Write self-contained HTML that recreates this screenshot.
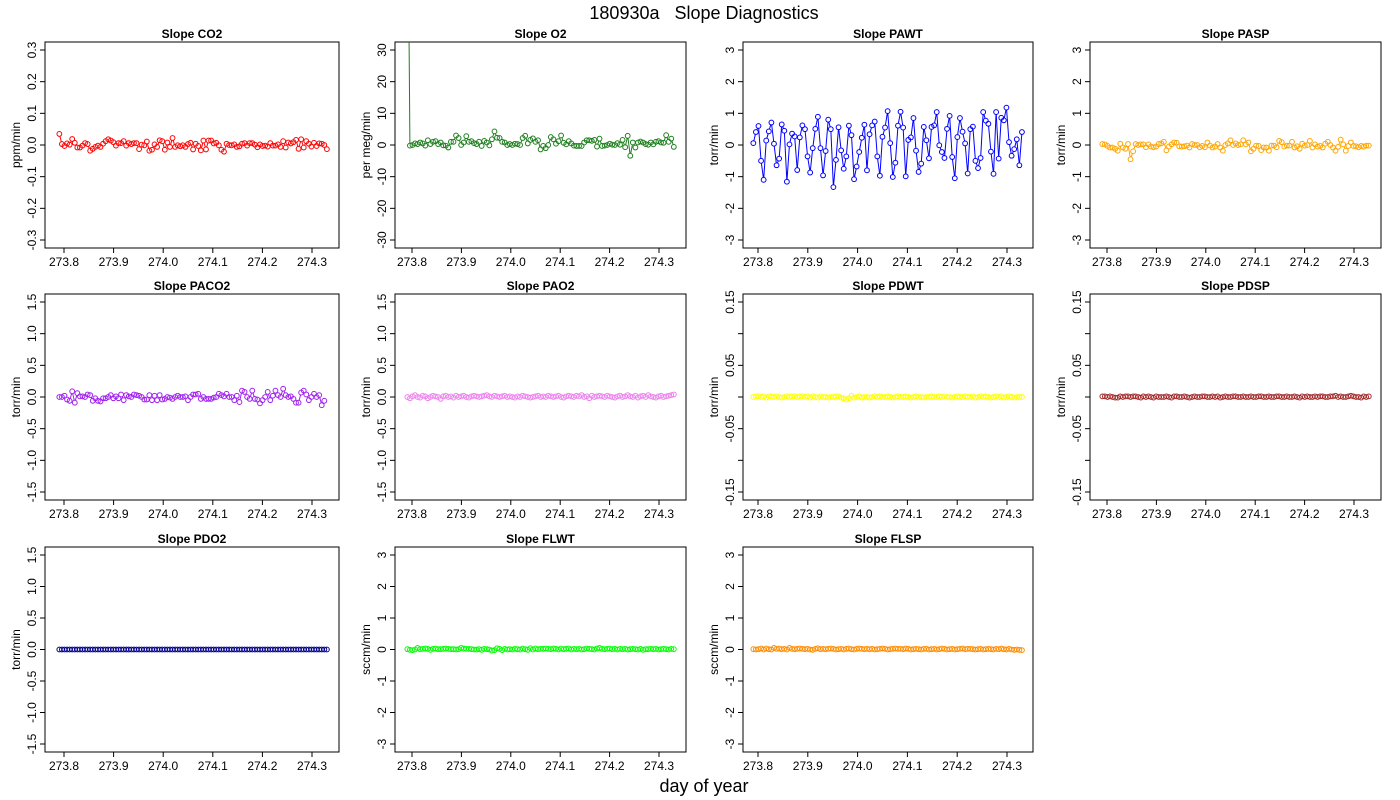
<!DOCTYPE html>
<html><head><meta charset="utf-8">
<style>
html,body{margin:0;padding:0;background:#fff;}
svg{display:block;font-family:"Liberation Sans",sans-serif;}
</style></head>
<body>
<svg id="chart" width="1400" height="800" viewBox="0 0 1400 800">
<text x="704" y="19" font-size="18" text-anchor="middle" xml:space="preserve">180930a   Slope Diagnostics</text>
<text x="704" y="792" font-size="18" text-anchor="middle">day of year</text>
</svg>
<script>
const t0 = 273.7906;
const t1 = 274.330;
const xTicks = [273.8, 273.9, 274.0, 274.1, 274.2, 274.3];
const xTickLabels = ["273.8","273.9","274.0","274.1","274.2","274.3"];

const co2 = [0.035,0.003,-0.003,0.005,0.001,0.019,0.007,-0.008,-0.008,-0.002,0.006,0.003,-0.018,-0.012,-0.006,-0.002,-0.006,0.004,0.012,0.018,0.014,0.009,-0.002,0.006,0.006,0.012,-0.002,0.006,0.003,0.006,0.006,-0.013,0.001,-0.001,0.011,-0.018,-0.015,0.002,-0.006,0.015,0.012,-0.015,0.008,-0.006,0.022,-0.006,-0.001,-0.004,-0.001,-0.006,0.003,0.007,-0.014,0.004,-0.003,-0.017,0.014,-0.014,0.014,0.014,0.005,0.007,-0.001,-0.015,-0.021,0.004,0,-0.001,0.002,-0.006,-0.004,0.004,0.006,-0.002,0.006,0.006,0.001,-0.007,0.002,-0.003,-0.002,-0.005,0.006,-0.002,-0.002,0.002,-0.006,0.012,-0.008,0.008,0.005,0.009,0.016,-0.012,0.018,-0.008,0.012,0.004,-0.005,0.007,-0.003,0.005,0.004,0,-0.013];
const o2 = [100,-0.2,0,0.5,0.3,0.8,0.5,-0.2,1.5,0.3,1,1.2,0.3,0.8,-0.1,-0.2,-0.8,1,1,3,2.2,0,0.8,2.8,1,1.2,0.6,0.3,1,-0.3,1.3,0.8,-0.1,1.8,4.3,2.3,2.2,1,0.8,0,0.3,0,0.4,0.3,0,2.2,2.9,0.5,1.6,2.1,1,1.5,-1.4,-0.3,-1,0,2.5,1.8,0.4,1.2,3,0.7,0.2,1.2,0.5,-0.2,-0.3,-0.3,-0.3,0.8,1.5,1.5,1.3,1.6,-0.5,2,-0.3,-0.2,0,0.4,0.1,0,0.6,0.1,1.6,-0.7,2.9,-3.4,0.8,-0.8,0.8,1.1,0.8,0.3,0.1,0.8,0.2,1,1.2,0.8,0.7,3.1,1,2,-0.6];
const pawt = [0.06,0.41,0.6,-0.5,-1.1,0.14,0.43,0.71,0.04,-0.64,-0.43,0.65,0.45,-1.16,0.02,0.36,0.27,-0.79,0.24,0.62,0.5,-0.36,-0.87,-0.1,0.51,0.89,-0.1,-0.96,-0.19,0.8,0.5,-1.33,-0.47,0.56,-0.17,-0.75,-0.36,0.61,0.31,-1.08,-0.68,-0.22,0.23,0.64,-0.8,0.34,0.62,0.74,-0.36,-0.97,0.26,0.55,1.07,0.06,-1.01,-0.56,0.61,1.05,0.55,-0.99,0.16,0.24,0.85,-0.18,-0.85,-0.59,0.57,0.15,-0.42,0.57,0.62,1.04,-0.01,-0.22,-0.41,0.51,0.92,-0.38,-1.05,0.25,0.85,0.42,0.05,-0.9,0.5,0.58,-0.5,-0.73,-0.41,1.04,0.77,0.67,-0.21,-0.91,1.04,-0.43,0.86,0.78,1.18,0.09,-0.34,-0.13,0.18,-0.64,0.41];
const pasp = [0.03,0.02,-0.03,-0.08,-0.08,-0.12,-0.18,0.04,-0.08,-0.12,0.03,-0.45,-0.2,0.03,0,0.02,0.02,-0.07,0.02,-0.05,-0.07,-0.05,0.03,0.05,0.1,-0.17,-0.05,0.02,0.08,0.07,-0.04,-0.05,-0.04,-0.02,-0.08,0.03,0,0,-0.07,-0.03,-0.07,0.08,-0.02,-0.08,-0.05,0.03,-0.08,-0.18,0,0.05,0.15,0,0.05,0,0.02,0.15,0.02,0.08,-0.2,-0.12,-0.02,-0.03,-0.16,-0.08,-0.08,-0.18,-0.02,-0.02,-0.07,0.13,0.09,-0.05,-0.02,-0.02,0.1,-0.08,-0.04,-0.12,0.04,-0.02,0,0.13,-0.08,0.02,-0.05,-0.03,-0.08,0.04,0.1,0,-0.08,-0.18,-0.06,0.17,0.02,-0.18,-0.03,0.08,-0.03,-0.04,-0.07,-0.03,-0.05,-0.02,-0.02];
const paco2 = [0,0,0.02,-0.04,-0.06,0.09,-0.09,0.06,0.01,0.01,0,0.04,0.03,-0.06,-0.02,-0.06,-0.07,-0.02,-0.02,0,0.03,-0.02,0.01,-0.02,0.04,-0.05,0.03,0.01,0,0.04,0.03,0.02,0,-0.04,-0.04,0.03,-0.05,0.02,-0.05,0.03,-0.04,-0.03,0,-0.01,-0.03,0,0.02,0,0,0.01,-0.05,0,0.04,0.04,0.05,-0.03,0,-0.03,-0.03,-0.03,-0.01,0,0.05,0.03,0.01,0.05,0,0,-0.05,0.02,-0.08,0.1,0.08,0,-0.03,0.1,-0.03,-0.04,-0.1,-0.05,0,0.08,-0.05,0.02,0.1,0.03,0,0.13,0.03,0,0.01,-0.03,-0.09,-0.09,0.07,0.1,0.04,-0.05,0,0.05,0,0.03,-0.13,-0.06];
const pao2 = [0,-0.02,0.01,0.03,0,-0.01,0.02,0.01,-0.02,0,0.02,0.01,0,-0.03,0.01,0.02,0,0.01,-0.01,0.02,0,0.01,0.02,0,-0.01,0.01,0.02,0.01,0,0.01,0.02,0.03,0.01,0,0.02,0.01,0,0.01,0.02,0,0.01,0,-0.01,0.01,0,0.02,0.01,0,-0.01,0,0.01,0.02,0,0.01,0,0.02,0.01,0,0.01,0.02,0,-0.01,0.01,0.02,0.01,0,0.02,0.01,0.03,0,0.01,-0.02,0.02,0,0.01,0.02,0.01,0,0.02,0.01,0,-0.01,0.01,0.02,0,0.01,0.03,0.01,0,0.02,-0.01,0.01,0.02,0,0.03,0.01,0,-0.01,0.01,0.02,0,0.01,0.02,0.03,0.04];
const pdwt = [0,0.001,0.001,0,0.001,-0.001,0.001,0.001,0,0.001,0,-0.001,0,0.001,0,0.001,0.001,0,0.001,0.001,0,0.001,-0.001,0.001,0,-0.001,0.001,0,0,-0.001,0,0,0.001,0.001,-0.001,-0.002,-0.004,-0.002,0.002,-0.001,0,0.001,-0.001,0,0,-0.001,0,0.001,0,0.001,0,0,0.001,0,-0.001,0,0.001,0,0,0.001,0,-0.001,0,0.001,0,0,-0.001,0,0,0.001,0,0,0.001,0,0.001,0,0,-0.001,0,0.001,0,0,0.001,0,0,0.001,-0.001,0,0.001,0,0.001,0,-0.001,0,0.001,0,0.001,-0.001,0,0.001,0,-0.001,0,0,0];
const pdsp = [0.001,0.001,0,0.001,0,-0.001,-0.001,0.001,0,0.001,0.001,0,0.001,0.001,0,-0.001,0.001,0,0.001,0,-0.001,0.001,0,0,0,0.001,0,-0.001,0.001,0.001,0,0,0.001,0,-0.001,0,0.001,0,0,0.001,0.001,0,0,0.001,0,0.001,-0.001,0,0.001,0,0,0.001,0.001,0,0,0.001,0,0,0.001,0,0,0.001,0.001,0,0,0.001,0,0,0.001,0.001,0,0,0.001,0,0,0.001,0,-0.001,0.001,0,0.001,0,0,0.001,0,0.001,0.001,0,0,0.001,0.001,0.002,0,0.001,0,0,0.001,0.002,0.001,0,0,-0.001,0.001,0,0.001];
const pdo2 = Array(105).fill(0);
const flwt = [0.01,-0.01,-0.02,0,0.05,0.01,0.02,0.03,0.02,-0.01,0.02,0.03,0.01,0.01,0.02,0.03,0.02,0.01,0.01,0,0.01,0.05,0.03,0.02,0.02,0.01,0,0,0.01,-0.01,0.02,0.01,0,-0.03,-0.02,0.04,0.02,-0.02,0.02,0,0.01,0,0.02,0.01,0,0.03,0.01,-0.01,0.04,0,0.03,0.01,0.02,0.02,0.03,0.02,0.01,0.03,0.02,0,0.03,0.01,0.02,0.03,0,0.02,0.01,0.02,0,0.01,0.03,0.02,0.01,0,0.03,0.05,0.02,0.01,0.02,0.03,0.01,0.02,0,0.02,0.01,0.02,0,0.01,0.02,0.01,0,0.02,-0.01,0.01,0.01,0.02,0.01,0.02,0,0.01,0.02,0.01,0,0.02,0.01];
const flsp = [0.01,0,0.01,0.03,0,0.03,0.01,0,0.05,0.02,0.03,0.01,0.02,0,0.05,0.02,0.01,0.02,0.03,0.02,0.01,0.02,0,-0.01,0.02,0.04,0.01,0.02,0.01,0.02,0.03,0.02,0,0.01,0.02,0,0.02,0.03,0.01,0,0.02,0.03,0.02,0.01,0.02,0.01,0.02,0,0.01,0.02,0.03,0.02,0,0.01,0.02,0.03,0.02,0.02,0.01,0.03,0.02,0,0.01,0.02,0.01,0,0.02,0.02,0,0.01,0.02,0,0.01,0.03,0.02,0,0.01,0.02,0,0.01,0.02,0.03,0.01,0.02,0.02,0.01,0,0.01,0.02,0,0.01,0.02,0.01,0,0.02,0.01,0.03,0.01,0,0.02,0,-0.01,0,-0.01,-0.02];

const ticks3 = [-3,-2,-1,0,1,2,3];
const labels3 = ["-3","-2","-1","0","1","2","3"];
const ticks15 = [-1.5,-1,-0.5,0,0.5,1,1.5];
const labels15 = ["-1.5","-1.0","-0.5","0.0","0.5","1.0","1.5"];
const ticks015 = [-0.15,-0.1,-0.05,0,0.05,0.1,0.15];
const labels015 = ["-0.15","","-0.05","","0.05","","0.15"];

const svg = document.getElementById('chart');
const NS = 'http://www.w3.org/2000/svg';
function mk(tag, attrs, parent){
  const e = document.createElementNS(NS, tag);
  for (const k in attrs) e.setAttribute(k, attrs[k]);
  parent.appendChild(e);
  return e;
}
const cols = [
  {L:45,R:339,p0:64,p1:312},
  {L:395,R:686,p0:412,p1:659},
  {L:743,R:1033,p0:758,p1:1007},
  {L:1090,R:1381,p0:1107,p1:1354}
];
const rows = [{T:42,B:248,ty0:240,ty1:50},{T:294,B:500,ty0:492,ty1:302},{T:547,B:752,ty0:744,ty1:555}];
const panels = [
  {r:0,c:0,title:'Slope CO2',ylab:'ppm/min',color:'#FF0000',data:co2,ticks:[-0.3,-0.2,-0.1,0,0.1,0.2,0.3],labels:["-0.3","-0.2","-0.1","0.0","0.1","0.2","0.3"],key:'co2'},
  {r:0,c:1,title:'Slope O2',ylab:'per meg/min',color:'#1E7F1E',data:o2,ticks:[-30,-20,-10,0,10,20,30],labels:["-30","-20","-10","0","10","20","30"],key:'o2'},
  {r:0,c:2,title:'Slope PAWT',ylab:'torr/min',color:'#0000FF',data:pawt,ticks:ticks3,labels:labels3,key:'pawt'},
  {r:0,c:3,title:'Slope PASP',ylab:'torr/min',color:'#FFA500',data:pasp,ticks:ticks3,labels:labels3,key:'pasp'},
  {r:1,c:0,title:'Slope PACO2',ylab:'torr/min',color:'#A020F0',data:paco2,ticks:ticks15,labels:labels15,key:'paco2'},
  {r:1,c:1,title:'Slope PAO2',ylab:'torr/min',color:'#EE82EE',data:pao2,ticks:ticks15,labels:labels15,key:'pao2'},
  {r:1,c:2,title:'Slope PDWT',ylab:'torr/min',color:'#FFFF00',data:pdwt,ticks:ticks015,labels:labels015,key:'pdwt'},
  {r:1,c:3,title:'Slope PDSP',ylab:'torr/min',color:'#A52A2A',data:pdsp,ticks:ticks015,labels:labels015,key:'pdsp'},
  {r:2,c:0,title:'Slope PDO2',ylab:'torr/min',color:'#00008B',data:pdo2,ticks:ticks15,labels:labels15,key:'pdo2'},
  {r:2,c:1,title:'Slope FLWT',ylab:'sccm/min',color:'#00FF00',data:flwt,ticks:ticks3,labels:labels3,key:'flwt'},
  {r:2,c:2,title:'Slope FLSP',ylab:'sccm/min',color:'#FF8C00',data:flsp,ticks:ticks3,labels:labels3,key:'flsp'}
];
const N = 105;
panels.forEach((p, pi) => {
  const c = cols[p.c], r = rows[p.r];
  const g = mk('g', {}, svg);
  
  
  const xs = v => c.p0 + (v - 273.8) / 0.5 * (c.p1 - c.p0);
  const tmin = p.ticks[0], tmax = p.ticks[p.ticks.length-1];
  const ys = v => r.ty0 + (v - tmin) / (tmax - tmin) * (r.ty1 - r.ty0);
  const box = mk('rect', {x:c.L, y:r.T, width:c.R-c.L, height:r.B-r.T, fill:'none', stroke:'#000', 'stroke-width':1}, g);
  
  
  const tt = mk('text', {x:(c.L+c.R)/2, y:r.T-4, 'font-size':12, 'font-weight':'bold', 'text-anchor':'middle'}, g);
  tt.textContent = p.title;
  
  
  // x axis
  const xa = mk('g', {}, g);
  
  
  mk('line', {x1:xs(xTicks[0]), x2:xs(xTicks[xTicks.length-1]), y1:r.B, y2:r.B, stroke:'#000'}, xa);
  xTicks.forEach((t, i) => {
    mk('line', {x1:xs(t), x2:xs(t), y1:r.B, y2:r.B+5, stroke:'#000'}, xa);
    const tl = mk('text', {x:xs(t), y:r.B+18, 'font-size':12, 'text-anchor':'middle'}, xa);
    tl.textContent = xTickLabels[i];
    
    
  });
  // y axis
  const ya = mk('g', {}, g);
  
  
  mk('line', {x1:c.L, x2:c.L, y1:ys(tmin), y2:ys(tmax), stroke:'#000'}, ya);
  p.ticks.forEach((t, i) => {
    mk('line', {x1:c.L-5, x2:c.L, y1:ys(t), y2:ys(t), stroke:'#000'}, ya);
    if (p.labels[i]) {
      const lx = c.L-9, ly = ys(t);
      const tl = mk('text', {x:lx, y:ly, 'font-size':12, 'text-anchor':'middle', transform:'rotate(-90 '+lx+' '+ly+')'}, ya);
      tl.textContent = p.labels[i];
      
      
    }
  });
  const yl = mk('text', {x:c.L-25, y:(r.T+r.B)/2, 'font-size':12, 'text-anchor':'middle', transform:'rotate(-90 '+(c.L-25)+' '+((r.T+r.B)/2)+')'}, g);
  yl.textContent = p.ylab;
  
  
  // clip
  const cp = mk('clipPath', {id:'clip'+pi}, g);
  mk('rect', {x:c.L, y:r.T, width:c.R-c.L, height:r.B-r.T}, cp);
  const sg = mk('g', {'clip-path':'url(#clip'+pi+')'}, g);
  
  
  const dt = (t1 - t0) / (N - 1);
  const pts = p.data.map((v, i) => [xs(t0 + i*dt), ys(v)]);
  const rad = 2.4;
  for (let i = 1; i < pts.length; i++) {
    const [ax, ay] = pts[i-1], [bx, by] = pts[i];
    const dx = bx-ax, dy = by-ay, len = Math.hypot(dx, dy);
    if (len > 2*rad + 1) {
      const ux = dx/len, uy = dy/len;
      const seg = mk('line', {x1:ax+ux*rad, y1:ay+uy*rad, x2:bx-ux*rad, y2:by-uy*rad, stroke:p.color, 'stroke-width':1}, sg);
      
      
    }
  }
  pts.forEach(([x, y]) => {
    const pt = mk('circle', {cx:x, cy:y, r:rad, fill:'none', stroke:p.color, 'stroke-width':1}, sg);
    
    
  });
});
</script>
</body></html>
